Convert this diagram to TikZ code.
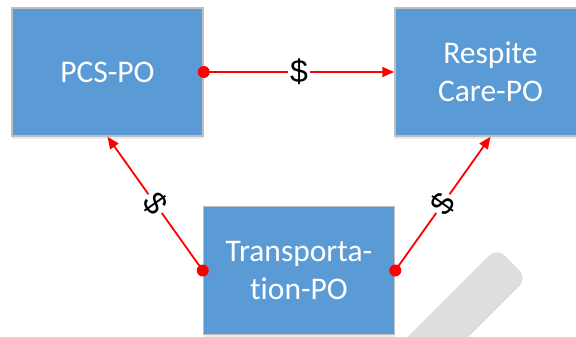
\documentclass[tikz,border=0pt]{standalone}
\usepackage{fontspec}
\setmainfont{Carlito}[RawFeature={-liga}]
\newfontfamily\dollarfont{Liberation Sans}
\usetikzlibrary{arrows.meta,shadows}
\definecolor{boxblue}{HTML}{5B9BD5}
\definecolor{boxline}{HTML}{BFBFBF}
\definecolor{pencil}{HTML}{DEDEDE}
\begin{document}
\begin{tikzpicture}[x=1pt,y=1pt,
  pobox/.style={draw=boxline, line width=1.5pt, fill=boxblue,
    minimum width=191pt, minimum height=128pt, inner sep=0pt,
    text=white, font=\fontsize{31.5}{38}\selectfont, align=center,
    drop shadow={shadow xshift=0pt, shadow yshift=-3pt, opacity=0.08, fill=black}},
  flow/.style={draw=red, line width=1.8pt, -{Triangle[length=12pt,width=10pt]}},
  money/.style={fill=white, inner sep=2.5pt, text=black, sloped, font=\dollarfont\fontsize{32}{36}\selectfont},
  dot/.style={fill=red}]
\useasboundingbox (0,0) rectangle (576,-337);
\clip (0,0) rectangle (576,-337);
\begin{scope}[shift={(512,-263)}, rotate=45]
  \fill[pencil, rounded corners=11pt] (-260,-21.5) rectangle (0,21.5);
\end{scope}
\node[pobox] (pcs) at (107.5,-72) {PCS-PO};
\node[pobox] (resp) at (490.5,-72) {Respite\\Care-PO};
\node[pobox] (trans) at (299,-270.5) {Transporta-\\tion-PO};
\draw[flow] (pcs.east) -- node[money]{\$} (resp.west);
\draw[flow] (trans.west) -- node[money]{\$} (pcs.south);
\draw[flow] (trans.east) -- node[money]{\$} (resp.south);
\fill[dot] (pcs.east) circle (6pt);
\fill[dot] (trans.west) circle (6pt);
\fill[dot] (trans.east) circle (6pt);
\end{tikzpicture}
\end{document}
